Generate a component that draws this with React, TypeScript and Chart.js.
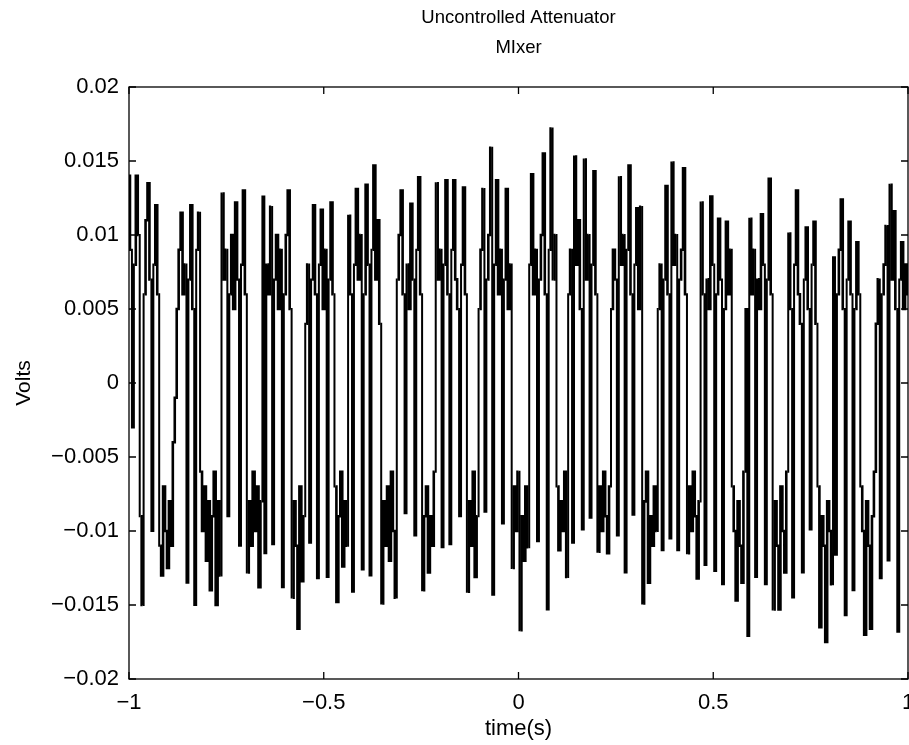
import React, { useEffect, useRef } from 'react';
import { Chart, registerables } from 'chart.js';

Chart.register(...registerables);

const FONT = "'Liberation Sans', Arial, Helvetica, sans-serif";
const TICK_FONT_SIZE = 22;
const XLABEL_FONT_SIZE = 22;
const YLABEL_FONT_SIZE = 21;
const TITLE_FONT_SIZE = 18.5;

const TITLE_LINES = ['Uncontrolled Attenuator', 'MIxer'];
const X_LABEL = 'time(s)';
const Y_LABEL = 'Volts';

const X_MIN = -1;
const X_MAX = 1;
const Y_MIN = -0.02;
const Y_MAX = 0.02;

const X_TICKS = [-1, -0.5, 0, 0.5, 1];
const X_TICK_LABELS = ['\u22121', '\u22120.5', '0', '0.5', '1'];
const Y_TICKS = [-0.02, -0.015, -0.01, -0.005, 0, 0.005, 0.01, 0.015, 0.02];
const Y_TICK_LABELS = ['\u22120.02', '\u22120.015', '\u22120.01', '\u22120.005', '0', '0.005', '0.01', '0.015', '0.02'];

// sampling of the recorded signal: t = T_START + i * T_STEP (seconds)
const T_START = -1;
const T_STEP = 0.005;

// signal values, in millivolts
const SIGNAL_MV = [
  14, 9, -3, 8, 14, 10, -9, -15, 6, 11, 13.5, 7, -10, 8, 12, 6,
  -11, -13, -7, -10, -12.5, -8, -11, -4, -1,
  5, 9, 11.5, 6, 8, -13.5, 7, 12, 5, -15, 9, 11.5,
  -6, -10, -7, -12, -8, -14, -9, -6, -15, -8, -13, 12.8, 7, 9, -9, 6, 10, 5, 12.2, 7, -11, 8, 13, 6,
  -12.8, -8, -11, -6, -10, -7, -13.8, -8,
  12.6, -11.5, 8, 6, 11.9, -10.9, 7, 10, 5, 9, -13.8, 6, 10, 13, 5,
  -14.5, -8, -11, -16.6, -7, -13.4, -9,
  4, 8, -10.8, 7, 12, 6, -13.2, 8, 11.7, 5, 9, -13.1, 7, 12.2, 6,
  -7, -14.8, -9, -6, -12.4, -8, -11,
  11.3, 6, -14.1, 8, 13.1, 7, 10, -12.6, 6, 13.4, 8, -13, 9, 14.7, 7, 11, 4,
  -14.9, -8, -11, -7, -12, -6, -10, -14.5,
  7, 10, 13, 6, -8.8, 8, 5, 12.1, 7, -10.3, 9, 13.9, 6,
  -14, -9, -7, -12.8, -9, -11, -6,
  13.5, 7, 9, -11.1, 8, 13.7, 6, -10.9, 9, 13.7, 7, 5, -9, 8, 13.2, 6,
  -14.1, -8, -11, -6, -13.1, -9,
  5, 9, 13.1, -8.7, 7, 10, 15.9, -14.3, 8, 13.7, 6, 9, -9.5, 7, 13.1, 5, 8,
  -12.5, -7, -10, -6, -16.7, -9, -12, -7,
  -11.1, 8, 14.1, 6, 9, -10.7, 7, 10, 15.5, 6, -15.3, 9, 17.2, 7, 10,
  -7, -11.3, -8, -10, -6, -13.1,
  6, 9, -10.8, 15.3, 8, 11, 5, -9.9, 15.1, 7, 10, -9.1, 8, 14.3, 6,
  -11.4, -7, -10, -6, -9, -11.5, -7,
  5, 9, 7, -10.3, 13.9, 8, 10, -12.8, 9, 14.7, 6, -8.9, 8, 11.8, 5, 11.9,
  -14.9, -8, -6, -13.5, -9, -11, -7, -10,
  5, 8, -11.3, 7, 13.3, 6, -10.5, 14.9, 8, 10, -11.3, 7, 9, 14.5, 6, -11.5,
  -7, -10, -6, -9, -13.2, -8,
  12.2, 6, -12.3, 7, 5, 12.6, 8, -12.7, 6, 11.1, 7, -13.6, 5, 10.9, 6, 9,
  -7, -10, -14.7, -8, -11, -13.5, -6,
  5, -17.1, 11.1, 6, 9, -13.1, 7, 5, 11.4, 8, -13.6, 7, 13.8, 6,
  -15.3, -8, -11, -15.3, -7, -10, -12.8, -6,
  10.1, 5, -14.5, 8, 13, 6, 4, -12.8, 7, 10.5, 5, -9.9, 8, 10.9, 4,
  -7, -16.5, -9, -11, -17.5, -8, -10,
  -13.6, 8.5, -11.6, 6, 9, 12.4, 5, -15.7, 7, 10.9, 6, -14, 5, 9.5, 6,
  -7, -10, -17, -8, -11, -16.6, -9,
  -6, 4, 7, -13.2, 6, 8, 10.6, -12, 13.4, 7, 11.6, 5, -16.8, 7, 9.5, 5, 8, 6,
];

const CANVAS_W = 940;
const CANVAS_H = 745;

const framePlugin = {
  id: 'matlabFrame',
  afterDatasetsDraw(chart: any) {
    const { ctx, chartArea: a, scales } = chart;
    ctx.save();
    ctx.strokeStyle = '#000';
    ctx.lineWidth = 1.3;
    ctx.strokeRect(a.left, a.top, a.right - a.left, a.bottom - a.top);
    const L = 7;
    ctx.beginPath();
    scales.x.ticks.forEach((t: any) => {
      const px = scales.x.getPixelForValue(t.value);
      ctx.moveTo(px, a.bottom);
      ctx.lineTo(px, a.bottom - L);
      ctx.moveTo(px, a.top);
      ctx.lineTo(px, a.top + L);
    });
    scales.y.ticks.forEach((t: any) => {
      const py = scales.y.getPixelForValue(t.value);
      ctx.moveTo(a.left, py);
      ctx.lineTo(a.left + L, py);
      ctx.moveTo(a.right, py);
      ctx.lineTo(a.right - L, py);
    });
    ctx.stroke();
    ctx.fillStyle = '#000';
    ctx.font = `${TITLE_FONT_SIZE}px ${FONT}`;
    ctx.textAlign = 'center';
    ctx.textBaseline = 'middle';
    const cx = (a.left + a.right) / 2;
    ctx.fillText(TITLE_LINES[0], cx, 18);
    ctx.fillText(TITLE_LINES[1], cx, 48);
    ctx.restore();
  },
};

export default function App() {
  const ref = useRef<HTMLCanvasElement | null>(null);

  useEffect(() => {
    if (!ref.current) return;
    const data = SIGNAL_MV.map((v, i) => ({ x: T_START + i * T_STEP, y: v / 1000 }));
    const tickFont = { family: FONT, size: TICK_FONT_SIZE };
    const chart = new Chart(ref.current, {
      type: 'line',
      data: {
        datasets: [
          {
            data,
            borderColor: '#000',
            borderWidth: 2.6,
            pointRadius: 0,
            tension: 0,
            stepped: 'middle',
            fill: false,
            segment: {
              // transitions between the high and low states are thinner strokes
              borderWidth: (c: any) =>
                Math.abs(c.p1.parsed.y - c.p0.parsed.y) > 0.01 ? 2.0 : 2.6,
            },
          },
        ],
      },
      options: {
        animation: false,
        responsive: false,
        maintainAspectRatio: false,
        devicePixelRatio: 1,
        events: [],
        layout: { padding: { left: 0, top: 87, right: CANVAS_W - 908, bottom: 3 } },
        plugins: {
          legend: { display: false },
          tooltip: { enabled: false },
          title: { display: false },
        },
        scales: {
          x: {
            type: 'linear',
            min: X_MIN,
            max: X_MAX,
            grid: { display: false, drawTicks: false },
            border: { display: false },
            afterBuildTicks: (s: any) => {
              s.ticks = X_TICKS.map((v) => ({ value: v }));
            },
            afterFit: (s: any) => {
              s.height = 63;
            },
            ticks: {
              callback: (_v: any, i: number) => X_TICK_LABELS[i],
              font: tickFont,
              color: '#000',
              padding: 11,
              maxRotation: 0,
              autoSkip: false,
            },
            title: {
              display: true,
              text: X_LABEL,
              font: { family: FONT, size: XLABEL_FONT_SIZE },
              color: '#000',
              padding: 0,
            },
          },
          y: {
            type: 'linear',
            min: Y_MIN,
            max: Y_MAX,
            grid: { display: false, drawTicks: false },
            border: { display: false },
            afterBuildTicks: (s: any) => {
              s.ticks = Y_TICKS.map((v) => ({ value: v }));
            },
            afterFit: (s: any) => {
              s.width = 129;
            },
            ticks: {
              callback: (_v: any, i: number) => Y_TICK_LABELS[i],
              font: tickFont,
              color: '#000',
              padding: 10,
              autoSkip: false,
            },
            title: {
              display: true,
              text: Y_LABEL,
              font: { family: FONT, size: YLABEL_FONT_SIZE },
              color: '#000',
              padding: { top: 12, bottom: 0 },
            },
          },
        },
      },
      plugins: [framePlugin],
    });
    return () => chart.destroy();
  }, []);

  return (
    <div
      style={{
        position: 'fixed',
        left: 0,
        top: 0,
        width: 909,
        height: 745,
        overflow: 'hidden',
        background: '#fff',
      }}
    >
      <canvas ref={ref} width={CANVAS_W} height={CANVAS_H} style={{ display: 'block' }} />
    </div>
  );
}
